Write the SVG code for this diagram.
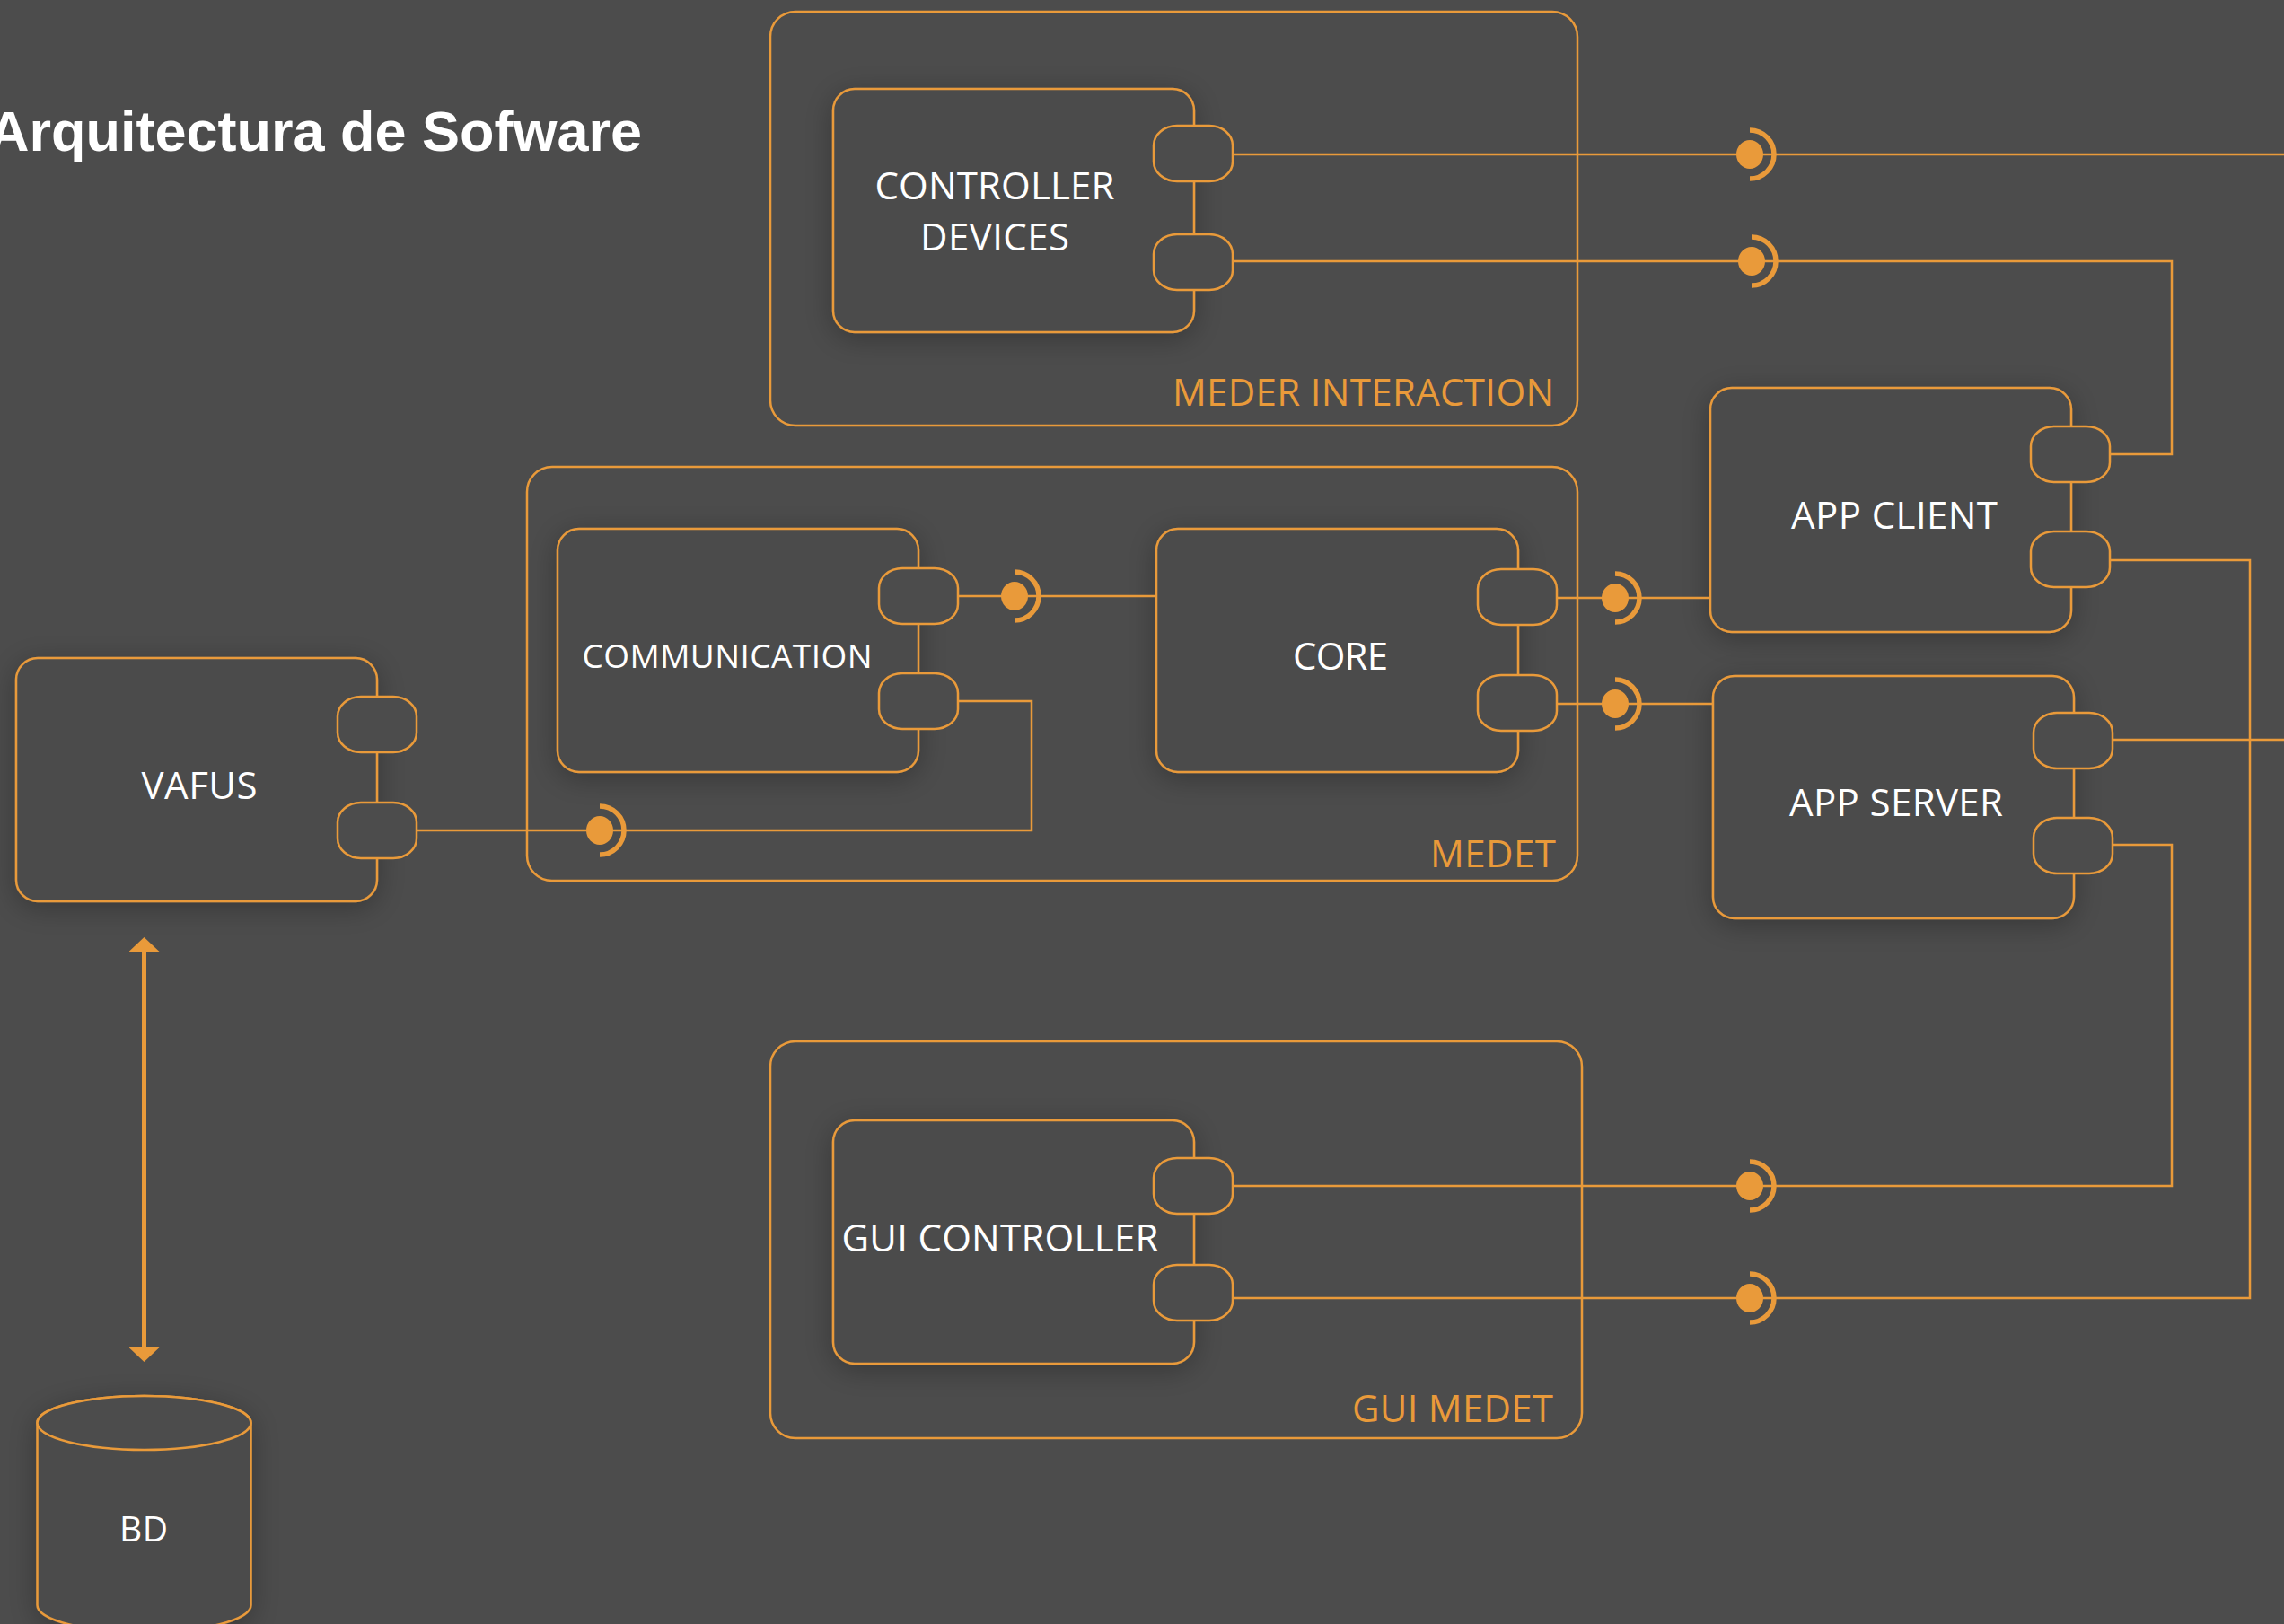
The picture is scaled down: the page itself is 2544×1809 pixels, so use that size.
<svg xmlns="http://www.w3.org/2000/svg" width="2544" height="1809" viewBox="0 0 2544 1809">
<style>
.bg{fill:#4c4c4c}
.cont{fill:none;stroke:#e99a3a;stroke-width:2.5}
.box{fill:#4c4c4c;stroke:#e99a3a;stroke-width:2.5}
.port{fill:#4c4c4c;stroke:#e99a3a;stroke-width:2.5}
.wire{fill:none;stroke:#e99a3a;stroke-width:2.5}
.lbl{font-family:"Open Sans","Noto Sans",sans-serif;fill:#ffffff;font-size:42px;text-anchor:middle}
.clbl{font-family:"Open Sans","Noto Sans",sans-serif;fill:#e99a3a;font-size:42px;text-anchor:end}
.title{font-family:"Liberation Sans",Arial,sans-serif;font-weight:bold;fill:#ffffff;font-size:63px}
</style>
<defs>
<filter id="sh" x="-20%" y="-20%" width="140%" height="140%">
<feDropShadow dx="0" dy="6" stdDeviation="16" flood-color="#000" flood-opacity="0.28"/>
</filter>
<g id="socket">
<ellipse cx="0" cy="0" rx="15" ry="16" fill="#e99a3a"/>
<path d="M0,-27 A27,27 0 0 1 0,27" fill="none" stroke="#e99a3a" stroke-width="5.5"/>
</g>
<marker id="arr" viewBox="0 0 16 34" refX="0" refY="17" markerUnits="userSpaceOnUse" markerWidth="16" markerHeight="34" orient="auto-start-reverse">
<path d="M0,0 L16,17 L0,34 z" fill="#e99a3a"/>
</marker>
</defs>
<rect class="bg" x="0" y="0" width="2544" height="1809"/>

<text class="title" x="-13" y="168" textLength="728" lengthAdjust="spacingAndGlyphs">Arquitectura de Sofware</text>

<g id="meder-interaction">
<rect class="cont" x="858" y="13" width="899" height="461" rx="28" ry="28"/>
<text class="clbl" x="1731" y="452" textLength="425">MEDER INTERACTION</text>
</g>
<g id="medet">
<rect class="cont" x="587" y="520" width="1170" height="461" rx="28" ry="28"/>
<text class="clbl" x="1733" y="966" textLength="140">MEDET</text>
</g>
<g id="gui-medet">
<rect class="cont" x="858" y="1160" width="904" height="442" rx="28" ry="28"/>
<text class="clbl" x="1730" y="1584" textLength="224">GUI MEDET</text>
</g>

<g id="controller-devices">
<rect class="box" filter="url(#sh)" x="928" y="99" width="402" height="271" rx="24" ry="24"/>
<rect class="port" x="1285" y="140" width="88" height="62" rx="26" ry="22"/>
<rect class="port" x="1285" y="261" width="88" height="62" rx="26" ry="22"/>
<text class="lbl" x="1108" y="222" textLength="267">CONTROLLER</text>
<text class="lbl" x="1108" y="279" textLength="166">DEVICES</text>
</g>

<g id="communication">
<rect class="box" filter="url(#sh)" x="621" y="589" width="402" height="271" rx="24" ry="24"/>
<rect class="port" x="979" y="633" width="88" height="62" rx="26" ry="22"/>
<rect class="port" x="979" y="750" width="88" height="62" rx="26" ry="22"/>
<text class="lbl" x="810" y="744" font-size="37" style="font-size:37px" textLength="323">COMMUNICATION</text>
</g>

<g id="core">
<rect class="box" filter="url(#sh)" x="1288" y="589" width="403" height="271" rx="24" ry="24"/>
<rect class="port" x="1646" y="634" width="88" height="62" rx="26" ry="22"/>
<rect class="port" x="1646" y="752" width="88" height="62" rx="26" ry="22"/>
<text class="lbl" x="1493" y="746" textLength="106">CORE</text>
</g>

<g id="vafus">
<rect class="box" filter="url(#sh)" x="18" y="733" width="402" height="271" rx="24" ry="24"/>
<rect class="port" x="376" y="776" width="88" height="62" rx="26" ry="22"/>
<rect class="port" x="376" y="894" width="88" height="62" rx="26" ry="22"/>
<text class="lbl" x="222" y="890" textLength="129">VAFUS</text>
</g>

<g id="app-client">
<rect class="box" filter="url(#sh)" x="1905" y="432" width="402" height="272" rx="24" ry="24"/>
<rect class="port" x="2262" y="475" width="88" height="62" rx="26" ry="22"/>
<rect class="port" x="2262" y="592" width="88" height="62" rx="26" ry="22"/>
<text class="lbl" x="2110" y="589" textLength="230">APP CLIENT</text>
</g>

<g id="app-server">
<rect class="box" filter="url(#sh)" x="1908" y="753" width="402" height="270" rx="24" ry="24"/>
<rect class="port" x="2265" y="794" width="88" height="62" rx="26" ry="22"/>
<rect class="port" x="2265" y="911" width="88" height="62" rx="26" ry="22"/>
<text class="lbl" x="2112" y="909" textLength="238">APP SERVER</text>
</g>

<g id="gui-controller">
<rect class="box" filter="url(#sh)" x="928" y="1248" width="402" height="271" rx="24" ry="24"/>
<rect class="port" x="1285" y="1290" width="88" height="62" rx="26" ry="22"/>
<rect class="port" x="1285" y="1409" width="88" height="62" rx="26" ry="22"/>
<text class="lbl" x="1114" y="1394" textLength="353">GUI CONTROLLER</text>
</g>

<g id="bd">
<path class="box" filter="url(#sh)" d="M41.5,1585 L41.5,1788 A119,30 0 0 0 279.5,1788 L279.5,1585 A119,30 0 0 0 41.5,1585 z"/>
<ellipse class="box" cx="160.5" cy="1585" rx="119" ry="30"/>
<text class="lbl" x="160" y="1717" style="font-size:39px" textLength="54">BD</text>
</g>

<g id="connectors">
<path class="wire" d="M1373,172 H2544"/>
<use href="#socket" x="1949" y="172"/>
<path class="wire" d="M1373,291 H2419 V506 H2350"/>
<use href="#socket" x="1951" y="291"/>
<path class="wire" d="M1067,664 H1288"/>
<use href="#socket" x="1130" y="664"/>
<path class="wire" d="M1067,781 H1149 V925 H464"/>
<use href="#socket" x="668" y="925"/>
<path class="wire" d="M1734,666 H1905"/>
<use href="#socket" x="1799" y="666"/>
<path class="wire" d="M1734,784 H1908"/>
<use href="#socket" x="1799" y="784"/>
<path class="wire" d="M2350,624 H2506 V1446 H1373"/>
<use href="#socket" x="1949" y="1446"/>
<path class="wire" d="M2353,824 H2544"/>
<path class="wire" d="M2353,941 H2419 V1321 H1373"/>
<use href="#socket" x="1949" y="1321"/>
<line x1="160.5" y1="1060" x2="160.5" y2="1501" stroke="#e99a3a" stroke-width="5" marker-start="url(#arr)" marker-end="url(#arr)"/>
</g>
</svg>
